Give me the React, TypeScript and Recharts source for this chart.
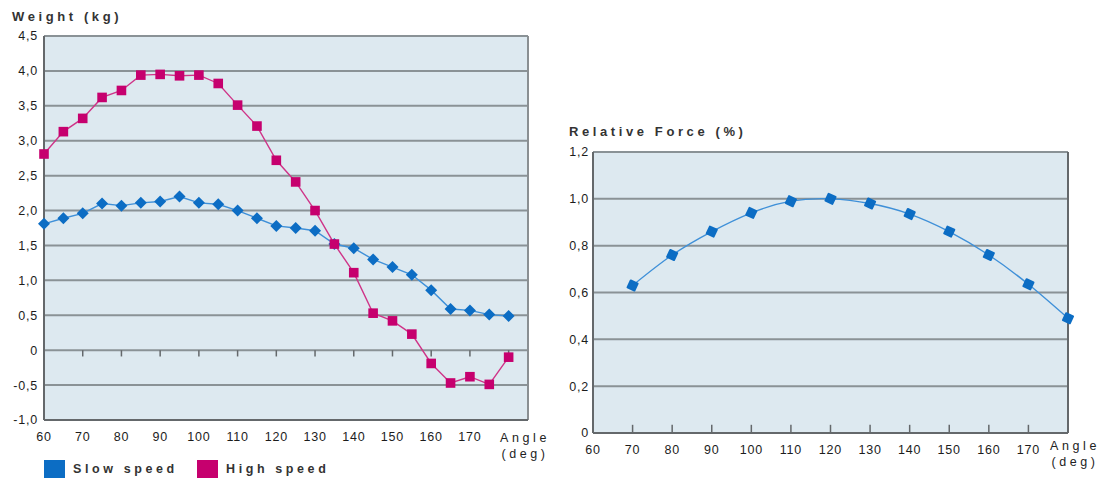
import { LineChart, Line, XAxis, YAxis, CartesianGrid, ReferenceLine } from "recharts";

const angles = [60, 65, 70, 75, 80, 85, 90, 95, 100, 105, 110, 115, 120, 125, 130, 135, 140, 145, 150, 155, 160, 165, 170, 175, 180];
const slowSpeed = [1.81, 1.89, 1.96, 2.1, 2.07, 2.11, 2.13, 2.2, 2.11, 2.09, 2.0, 1.89, 1.78, 1.75, 1.71, 1.52, 1.46, 1.3, 1.19, 1.08, 0.86, 0.59, 0.57, 0.51, 0.49];
const highSpeed = [2.81, 3.13, 3.32, 3.62, 3.72, 3.94, 3.95, 3.93, 3.94, 3.82, 3.51, 3.21, 2.72, 2.41, 2.0, 1.52, 1.11, 0.53, 0.42, 0.23, -0.19, -0.47, -0.38, -0.49, -0.1];

const forceAngles = [70, 80, 90, 100, 110, 120, 130, 140, 150, 160, 170, 180];
const relativeForce = [0.63, 0.76, 0.86, 0.94, 0.99, 1.0, 0.98, 0.935, 0.86, 0.76, 0.635, 0.49];

const angleTicks = [60, 70, 80, 90, 100, 110, 120, 130, 140, 150, 160, 170];
const weightTicks = [-1, -0.5, 0, 0.5, 1, 1.5, 2, 2.5, 3, 3.5, 4, 4.5];
const forceTicks = [0, 0.2, 0.4, 0.6, 0.8, 1.0, 1.2];
const leftTickMarks = [70, 80, 90, 100, 110, 120, 130, 140, 150, 160, 170, 180];
const rightTickMarks = [70, 80, 90, 100, 110, 120, 130, 140, 150, 160, 170];

const legendItems = [
  { name: "Slow speed", color: "#0c6dc4" },
  { name: "High speed", color: "#c6006e" },
];

const weightData = angles.map((a, i) => ({ angle: a, slow: slowSpeed[i], high: highSpeed[i] }));
const forceData = forceAngles.map((a, i) => ({ angle: a, force: relativeForce[i] }));

const FONT = "'Liberation Sans', Arial, Helvetica, sans-serif";
const BG = "#dde9f0";
const GRID = "#8a9296";
const AXIS = "#64686b";
const BLUE_LINE = "#3f90d8";
const BLUE = "#0c6dc4";
const MAGENTA_LINE = "#cf3488";
const MAGENTA = "#c6006e";

const comma = (v: number) => (v === 0 ? "0" : v.toFixed(1).replace(".", ","));

const tickStyle = { fontSize: 12.5, fill: "#1c1c1c", fontFamily: FONT, letterSpacing: 0.8 };

function Diamond(props: any) {
  const { cx, cy } = props;
  if (cx == null || cy == null) return null;
  const r = 6;
  return <polygon points={`${cx},${cy - r} ${cx + r},${cy} ${cx},${cy + r} ${cx - r},${cy}`} fill={BLUE} />;
}

function Square(props: any) {
  const { cx, cy } = props;
  if (cx == null || cy == null) return null;
  return <rect x={cx - 4.8} y={cy - 4.8} width={9.6} height={9.6} fill={MAGENTA} />;
}

function TiltedSquare(props: any) {
  const { cx, cy } = props;
  if (cx == null || cy == null) return null;
  return (
    <rect
      x={cx - 4.8}
      y={cy - 4.8}
      width={9.6}
      height={9.6}
      rx={1}
      fill={BLUE}
      transform={`rotate(25 ${cx} ${cy})`}
    />
  );
}

const titleStyle: React.CSSProperties = {
  position: "absolute",
  fontFamily: FONT,
  fontSize: 13,
  fontWeight: "bold",
  letterSpacing: 3.6,
  color: "#333",
  lineHeight: 1,
  whiteSpace: "nowrap",
};

const angleStyle: React.CSSProperties = {
  position: "absolute",
  fontFamily: FONT,
  fontSize: 12.5,
  letterSpacing: 3.6,
  color: "#222",
  lineHeight: "16px",
  textAlign: "center",
  width: 62,
};

export default function App() {
  return (
    <div style={{ position: "absolute", left: 0, top: 0, width: 1110, height: 481, background: "#fff" }}>
      <div style={{ ...titleStyle, left: 12, top: 10 }}>Weight (kg)</div>
      <div style={{ ...titleStyle, left: 569, top: 125 }}>Relative Force (%)</div>

      <div style={{ position: "absolute", left: 0, top: 0 }}>
        <LineChart width={560} height={481} data={weightData} margin={{ top: 36, right: 32, left: 0, bottom: 31 }}>
          <CartesianGrid vertical={false} fill={BG} stroke={GRID} strokeWidth={2} strokeOpacity={1} />
          <XAxis
            dataKey="angle"
            type="number"
            domain={[60, 185]}
            ticks={angleTicks}
            interval={0}
            height={30}
            tickLine={false}
            tickSize={6}
            tickMargin={6}
            axisLine={{ stroke: AXIS, strokeWidth: 2 }}
            tick={tickStyle}
          />
          <YAxis
            type="number"
            domain={[-1, 4.5]}
            ticks={weightTicks}
            interval={0}
            width={44}
            tickLine={false}
            tickSize={4}
            tickMargin={2}
            tickFormatter={comma}
            axisLine={{ stroke: AXIS, strokeWidth: 2 }}
            tick={tickStyle}
          />
          <ReferenceLine x={185} stroke="#8a8f92" strokeWidth={2} />
          {leftTickMarks.map((t) => (
            <ReferenceLine
              key={t}
              segment={[
                { x: t, y: 0 },
                { x: t, y: -0.09 },
              ]}
              stroke={AXIS}
              strokeWidth={1.5}
            />
          ))}
          <Line
            dataKey="slow"
            type="linear"
            stroke={BLUE_LINE}
            strokeWidth={1.4}
            dot={(p: any) => <Diamond key={`s${p.index}`} {...p} />}
            activeDot={false}
            isAnimationActive={false}
          />
          <Line
            dataKey="high"
            type="linear"
            stroke={MAGENTA_LINE}
            strokeWidth={1.4}
            dot={(p: any) => <Square key={`h${p.index}`} {...p} />}
            activeDot={false}
            isAnimationActive={false}
          />
        </LineChart>
      </div>

      <div style={{ position: "absolute", left: 550, top: 0 }}>
        <LineChart width={560} height={481} data={forceData} margin={{ top: 152, right: 42, left: 0, bottom: 18 }}>
          <CartesianGrid vertical={false} fill={BG} stroke={GRID} strokeWidth={2} strokeOpacity={1} />
          <XAxis
            dataKey="angle"
            type="number"
            domain={[60, 180]}
            ticks={angleTicks}
            interval={0}
            height={30}
            tickLine={false}
            tickSize={6}
            tickMargin={6}
            axisLine={{ stroke: AXIS, strokeWidth: 2 }}
            tick={tickStyle}
          />
          <YAxis
            type="number"
            domain={[0, 1.2]}
            ticks={forceTicks}
            interval={0}
            width={43}
            tickLine={false}
            tickSize={3}
            tickMargin={1}
            tickFormatter={comma}
            axisLine={{ stroke: AXIS, strokeWidth: 2 }}
            tick={tickStyle}
          />
          <ReferenceLine x={180} stroke={AXIS} strokeWidth={2} />
          {rightTickMarks.map((t) => (
            <ReferenceLine
              key={t}
              segment={[
                { x: t, y: 0 },
                { x: t, y: 0.035 },
              ]}
              stroke={AXIS}
              strokeWidth={1.5}
            />
          ))}
          <Line
            dataKey="force"
            type="natural"
            stroke={BLUE_LINE}
            strokeWidth={1.4}
            dot={(p: any) => <TiltedSquare key={`f${p.index}`} {...p} />}
            activeDot={false}
            isAnimationActive={false}
          />
        </LineChart>
      </div>

      <div style={{ ...angleStyle, left: 494, top: 430 }}>
        Angle
        <br />
        (deg)
      </div>
      <div style={{ ...angleStyle, left: 1044, top: 438 }}>
        Angle
        <br />
        (deg)
      </div>

      {legendItems.map((item, i) => (
        <div
          key={item.name}
          style={{ position: "absolute", left: 44 + i * 153, top: 460, display: "flex", alignItems: "center" }}
        >
          <div style={{ width: 21, height: 18, background: item.color }} />
          <span
            style={{
              marginLeft: 8,
              fontFamily: FONT,
              fontSize: 12.5,
              fontWeight: "bold",
              letterSpacing: 3.6,
              color: "#333",
              lineHeight: "18px",
            }}
          >
            {item.name}
          </span>
        </div>
      ))}
    </div>
  );
}
